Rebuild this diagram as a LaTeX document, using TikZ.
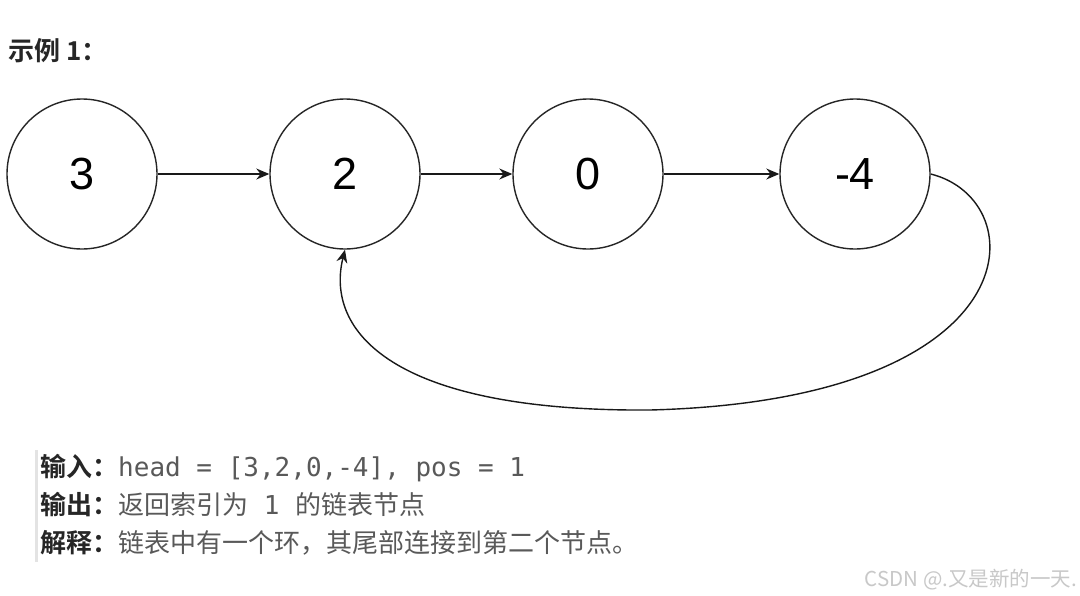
\documentclass[tikz,border=0pt]{standalone}
\usepackage{fontspec}
\setmainfont{Liberation Sans}
\newfontfamily\cjk{Noto Sans CJK SC}
\newfontfamily\cjkb{Noto Sans CJK SC Bold}
\newfontfamily\monof{DejaVu Sans Mono}
\usetikzlibrary{arrows.meta}
\definecolor{txtgray}{HTML}{595959}
\definecolor{bargray}{HTML}{E3E3E3}
\definecolor{wmgray}{HTML}{C8C8C8}
\definecolor{headc}{HTML}{262626}
\begin{document}
\begin{tikzpicture}[x=1pt,y=-1pt,
  listnode/.style={circle,draw=black!85,line width=1.4pt,minimum size=150pt,inner sep=0pt,font=\fontsize{45}{50}\selectfont},
  link/.style={draw=black!90,line width=1.4pt,-{Stealth[length=13pt,width=11pt]}},
  lab/.style={anchor=base west,inner sep=0pt,text=headc,font=\cjkb\fontsize{26}{30}\selectfont},
  body/.style={anchor=base west,inner sep=0pt,text=txtgray,font=\cjk\fontsize{26}{30}\selectfont}]
\useasboundingbox (0,0) rectangle (1080,595);
\fill[white] (0,0) rectangle (1080,595);
\node[anchor=base west,inner sep=0pt,text=headc,font=\cjkb\fontsize{26}{30}\selectfont] (title) at (8,60) {示例 1：};
\node[listnode] (n3) at (82,174) {3};
\node[listnode] (n2) at (345,174) {2};
\node[listnode] (n0) at (588,174) {0};
\node[listnode] (n4) at (855,174) {-4};
\draw[link] (n3) -- (n2);
\draw[link] (n2) -- (n0);
\draw[link] (n4.east) .. controls (1035,200) and (1035,400) .. (650,410) .. controls (390,412) and (325,330) .. (n2.south);
\draw[link] (n0) -- (n4);
\fill[bargray] (35,450) rectangle (38,562);
\node[lab] (l1) at (40,476) {输入：};
\node[anchor=base west,inner sep=0pt,text=txtgray,font=\monof\fontsize{26}{30}\selectfont] (v1) at (118,476) {head = [3,2,0,-4], pos = 1};
\node[lab] (l2) at (40,514) {输出：};
\node[body] (v2) at (118,514) {返回索引为{\monof\fontsize{26}{30}\selectfont{} 1 }的链表节点};
\node[lab] (l3) at (40,552) {解释：};
\node[body] (v3) at (118,552) {链表中有一个环，其尾部连接到第二个节点。};
\node[anchor=base east,inner sep=0pt,text=wmgray,font=\cjk\fontsize{20.5}{24}\selectfont] (wm) at (1077,586) {CSDN @.又是新的一天.};
\end{tikzpicture}
\end{document}
